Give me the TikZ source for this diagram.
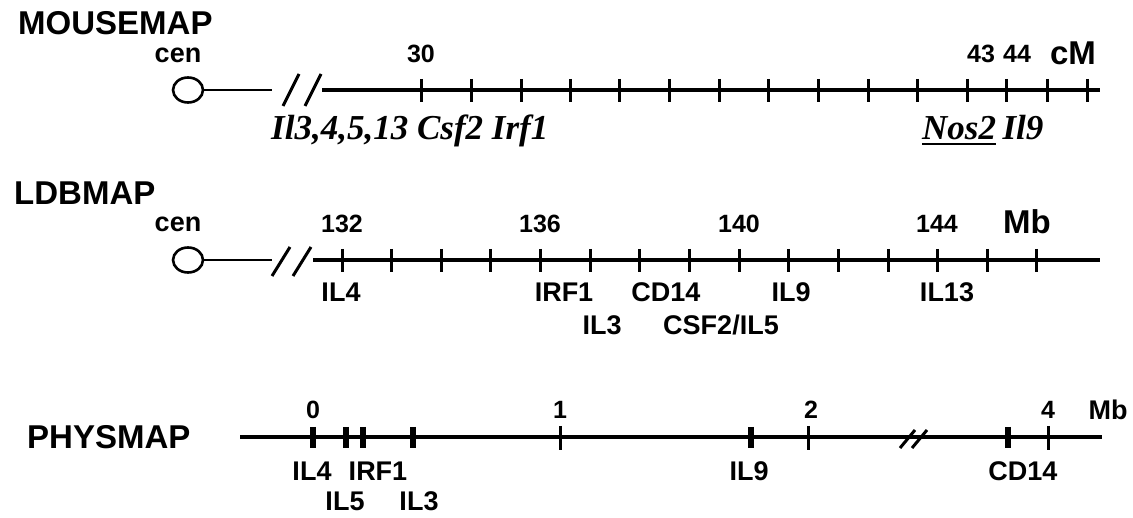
\documentclass[tikz,border=0pt]{standalone}
\usepackage{fontspec}
\setmainfont{Liberation Sans}
\newfontfamily\genefont{Liberation Serif}
\usetikzlibrary{shapes.geometric}
\begin{document}
\begin{tikzpicture}[x=1pt,y=-1pt,
  title/.style={font=\fontsize{33}{36}\selectfont\bfseries, anchor=base west, inner sep=0},
  num/.style={font=\fontsize{25}{28}\selectfont\bfseries, anchor=base, inner sep=0},
  lab/.style={font=\fontsize{27}{30}\selectfont\bfseries, anchor=base, inner sep=0},
  cenlab/.style={font=\fontsize{27}{30}\selectfont\bfseries, anchor=base, inner sep=0},
  gene/.style={font=\fontsize{35}{38}\selectfont\genefont\bfseries\itshape, anchor=base west, inner sep=0},
  unitlab/.style={font=\fontsize{33}{36}\selectfont\bfseries, anchor=base, inner sep=0},
  chrom/.style={line width=3.4pt},
  thinseg/.style={line width=2.4pt},
  tickmark/.style={line width=3pt},
  thicktick/.style={line width=6pt},
  brk/.style={line width=3pt},
  cent/.style={draw, line width=2.6pt, ellipse, minimum width=30pt, minimum height=25pt, inner sep=0}
]
\useasboundingbox (0,0) rectangle (1133,518);

% ---------------- MOUSEMAP ----------------
\node[title] (tmouse) at (18,35) {MOUSEMAP};
\node[cenlab] (cenm) at (178,63) {cen};
\node[cent] (cm) at (188,90) {};
\coordinate (m1) at (272,90);
\coordinate (m2) at (322,90);
\coordinate (m3) at (1100,90);
\draw[thinseg] (cm.east) -- (m1);
\draw[brk] (283,106) -- (299,74);
\draw[brk] (305,106) -- (321,74);
\draw[chrom] (m2) -- (m3);
\foreach \x in {421,471,521,570,619,669,719,768,818,868,917,967,1006,1047,1087}
  \draw[tickmark] (\x,79) -- (\x,102);
\node[num] (n30) at (421,63) {30};
\node[num] (n43) at (981,63) {43};
\node[num] (n44) at (1017,63) {44};
\node[unitlab] (cM) at (1073,65) {cM};
\node[gene] (g1) at (271,140) {Il3,4,5,13 Csf2 Irf1};
\node[gene] (nos) at (922,140) {Nos2};
\node[gene, anchor=base west] (il9m) at ([xshift=6pt]nos.base east) {Il9};
\draw[line width=1.8pt] ([yshift=-4pt]nos.base west) -- ([yshift=-4pt]nos.base east);

% ---------------- LDBMAP ----------------
\node[title] (tldb) at (14,205) {LDBMAP};
\node[cenlab] (cenl) at (178,232) {cen};
\node[cent] (cl) at (188,260) {};
\coordinate (l1) at (272,260);
\coordinate (l2) at (313,260);
\coordinate (l3) at (1100,260);
\draw[thinseg] (cl.east) -- (l1);
\draw[brk] (272,276) -- (290,247);
\draw[brk] (293,276) -- (311,247);
\draw[chrom] (l2) -- (l3);
\foreach \i in {0,...,14}
  \draw[tickmark] ({342+49.64*\i},249) -- ({342+49.64*\i},272);
\node[num] (n132) at (342,233) {132};
\node[num] (n136) at (540,233) {136};
\node[num] (n140) at (739,233) {140};
\node[num] (n144) at (937,233) {144};
\node[unitlab] (Mbl) at (1027,234) {Mb};
\node[lab] (lil4) at (341,302) {IL4};
\node[lab] (lirf1) at (564,302) {IRF1};
\node[lab] (lcd14) at (666,302) {CD14};
\node[lab] (lil9) at (791,302) {IL9};
\node[lab] (lil13) at (947,302) {IL13};
\node[lab] (lil3) at (602,335) {IL3};
\node[lab] (lcsf) at (721,335) {CSF2/IL5};

% ---------------- PHYSMAP ----------------
\node[title] (tphys) at (27,449) {PHYSMAP};
\coordinate (p1) at (240,437);
\coordinate (p2) at (1102,437);
\draw[chrom] (p1) -- (p2);
\foreach \x in {313,346,363,413,751,1008}
  \draw[thicktick] (\x,427) -- (\x,448);
\foreach \x in {560,808,1048}
  \draw[tickmark] (\x,426) -- (\x,450);
\draw[brk] (900,448) -- (915,430);
\draw[brk] (912,448) -- (927,430);
\node[num] (p0) at (313,419) {0};
\node[num] (pn1) at (560,419) {1};
\node[num] (pn2) at (811,419) {2};
\node[num] (pn4) at (1048,419) {4};
\node[lab] (Mbp) at (1108,420) {Mb};
\node[lab] (pil4) at (312,481) {IL4};
\node[lab] (pirf1) at (378,481) {IRF1};
\node[lab] (pil9) at (749,481) {IL9};
\node[lab] (pcd14) at (1023,481) {CD14};
\node[lab] (pil5) at (345,511) {IL5};
\node[lab] (pil3) at (419,511) {IL3};
\end{tikzpicture}
\end{document}
